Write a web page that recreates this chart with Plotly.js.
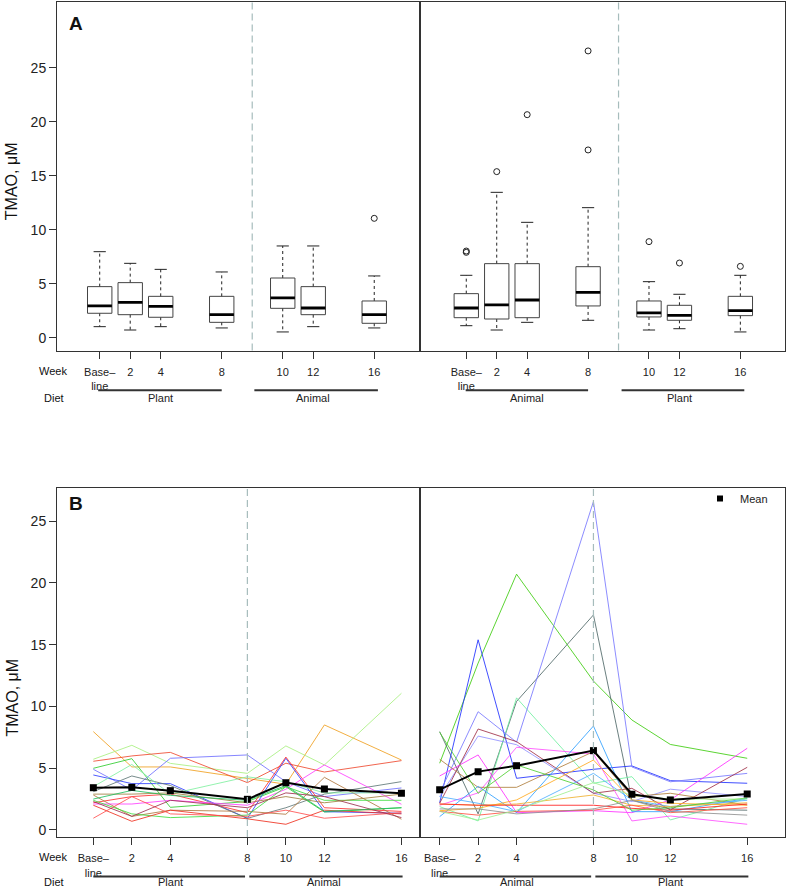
<!DOCTYPE html>
<html>
<head>
<meta charset="utf-8">
<script src="https://cdn.plot.ly/plotly-3.0.1.min.js"></script>
<style>html,body{margin:0;padding:0;background:#fff}#plot{width:786px;height:889px}</style>
</head>
<body>
<div id="plot"></div>
<script>
// week labels and where they sit on each x axis
var weekLabels = ['Base–<br>line', '2', '4', '8', '10', '12', '16'];
var posA = [0, 1, 2, 4, 6, 7, 9];   // panel A leaves a gap at the diet switch
var posB = [0, 1, 2, 4, 5, 6, 8];   // panel B is spaced by week

var plantFirstDiets = ['Plant', 'Animal'];
var animalFirstDiets = ['Animal', 'Plant'];

// Panel A: box stats, plant diet first
var pfLow  = [1.02, 0.71, 1.02, 0.90, 0.53, 1.02, 0.90];
var pfQ1   = [2.26, 2.13, 1.89, 1.42, 2.72, 2.13, 1.33];
var pfMed  = [2.94, 3.28, 2.90, 2.13, 3.68, 2.75, 2.13];
var pfQ3   = [4.73, 5.10, 3.83, 3.83, 5.53, 4.73, 3.40];
var pfHigh = [7.97, 6.89, 6.33, 6.09, 8.50, 8.50, 5.72];
var pfOutIdx = [6];
var pfOutVal = [11.06];

// Panel A: box stats, animal diet first
var afLow  = [1.11, 0.71, 1.42, 1.61, 0.71, 0.83, 0.53];
var afQ1   = [1.85, 1.73, 1.85, 2.94, 1.92, 1.61, 2.04];
var afMed  = [2.75, 3.03, 3.49, 4.20, 2.29, 2.07, 2.50];
var afQ3   = [4.08, 6.86, 6.86, 6.58, 3.40, 3.00, 3.83];
var afHigh = [5.78, 13.47, 10.69, 12.05, 5.19, 4.02, 5.78];
var afOutIdx = [0, 0, 1, 2, 3, 3, 4, 5, 6];
var afOutVal = [8.03, 7.91, 15.39, 20.67, 26.58, 17.40, 8.90, 6.92, 6.61];

// Panel B: each subject, weeks BL,2,4,8,10,12,16 (plant diet first)
var pfSubjects = [
  [7.96, 5.10, 5.10, 4.20, 3.70, 8.50, 5.66],
  [5.72, 6.85, 5.39, 4.58, 6.80, 5.26, 11.06],
  [5.56, 5.99, 6.28, 3.83, 5.40, 4.69, 5.61],
  [4.99, 5.77, 1.83, 2.30, 3.50, 1.45, 1.80],
  [4.91, 3.24, 5.80, 6.07, 3.90, 2.70, 3.40],
  [4.45, 3.75, 3.75, 0.94, 5.80, 1.48, 1.35],
  [2.20, 2.70, 2.90, 1.40, 5.90, 1.80, 1.50],
  [3.10, 4.37, 3.60, 0.94, 1.80, 2.90, 3.91],
  [2.83, 1.10, 1.60, 1.50, 1.27, 4.26, 0.87],
  [2.10, 2.10, 2.40, 2.00, 3.30, 5.26, 2.08],
  [2.40, 1.30, 1.00, 1.20, 3.50, 2.40, 2.40],
  [2.00, 0.70, 1.60, 0.90, 0.46, 1.60, 1.30],
  [0.95, 2.70, 1.30, 1.10, 1.60, 0.95, 1.40],
  [2.30, 1.10, 2.40, 1.80, 3.00, 2.70, 1.00],
  [3.50, 5.30, 2.90, 4.30, 3.90, 3.00, 3.00],
  [2.90, 2.90, 3.00, 2.20, 2.70, 2.20, 2.90],
  [2.50, 3.20, 2.80, 2.40, 3.60, 1.50, 1.80]
];
var pfColors = ['#f0a020', '#a8f080', '#ee4a30', '#30cc30', '#7070ff', '#3040ff', '#ff3030',
  '#607878', '#b07840', '#ff40ff', '#40dd40', '#ee3020', '#ff5050', '#a03050', '#80f0a0',
  '#a08040', '#20c060'];
var pfMean = [3.42, 3.45, 3.18, 2.48, 3.83, 3.32, 2.97];

// Panel B: each subject (animal diet first)
var afSubjects = [
  [5.40, 13.50, 20.70, 12.05, 8.90, 6.92, 5.80],
  [7.96, 1.30, 10.40, 17.40, 2.40, 1.70, 1.60],
  [1.89, 0.73, 10.69, 3.78, 4.31, 0.81, 2.56],
  [2.20, 15.39, 4.18, 4.91, 5.18, 3.99, 3.78],
  [3.00, 9.57, 7.10, 26.58, 5.10, 3.90, 4.58],
  [2.70, 7.60, 6.90, 2.97, 2.30, 3.30, 2.70],
  [2.16, 8.17, 7.15, 2.97, 3.37, 1.62, 5.07],
  [4.37, 6.07, 1.40, 1.56, 1.40, 2.43, 6.61],
  [2.00, 3.00, 6.69, 6.15, 0.73, 1.13, 0.46],
  [5.72, 3.45, 3.45, 6.34, 2.70, 2.97, 2.02],
  [1.08, 3.53, 1.40, 8.41, 1.48, 1.48, 2.56],
  [2.70, 2.16, 1.48, 4.58, 2.43, 1.89, 2.40],
  [1.56, 1.75, 2.43, 5.66, 2.43, 2.16, 2.00],
  [2.10, 2.00, 2.10, 2.83, 2.00, 1.90, 2.20],
  [2.10, 2.00, 2.00, 2.00, 1.75, 1.60, 2.10],
  [1.50, 1.20, 1.50, 1.60, 2.00, 1.40, 1.80],
  [7.90, 2.97, 5.26, 3.24, 1.60, 1.80, 2.60],
  [1.70, 1.70, 1.30, 1.70, 2.40, 1.50, 1.20],
  [1.50, 0.80, 1.60, 3.83, 2.80, 2.50, 2.50]
];
var afColors = ['#40cc10', '#506868', '#70f0a0', '#2030ff', '#7878ff', '#9090ff', '#a03048',
  '#ff30ff', '#ff50ff', '#b08040', '#30a0ff', '#50b0ff', '#ffaa20', '#f0b030', '#ff2020',
  '#ff5040', '#50d030', '#909090', '#a0f090'];
var afMean = [3.26, 4.72, 5.20, 6.42, 2.89, 2.43, 2.91];

var W = 786, H = 889;
var font = 'Liberation Sans, Arial, sans-serif';
var px = function (x) { return x / W; };
var py = function (y) { return 1 - y / H; };

var data = [];

// boxes drawn as R-style: thin box, thick median, dashed whiskers with caps
function addBoxes(pos, low, q1, med, q3, high, outIdx, outVal, xa, ya) {
  var bx = [], by = [], mx = [], my = [], wx = [], wy = [], cx = [], cy = [];
  for (var i = 0; i < pos.length; i++) {
    var x = pos[i];
    bx.push(x - 0.4, x + 0.4, x + 0.4, x - 0.4, x - 0.4, null);
    by.push(q1[i], q1[i], q3[i], q3[i], q1[i], null);
    mx.push(x - 0.4, x + 0.4, null);
    my.push(med[i], med[i], null);
    wx.push(x, x, null, x, x, null);
    wy.push(q3[i], high[i], null, q1[i], low[i], null);
    cx.push(x - 0.2, x + 0.2, null, x - 0.2, x + 0.2, null);
    cy.push(high[i], high[i], null, low[i], low[i], null);
  }
  var common = {xaxis: xa, yaxis: ya, mode: 'lines', showlegend: false, hoverinfo: 'skip'};
  data.push(Object.assign({x: wx, y: wy, line: {color: '#222', width: 1, dash: '3px,3px'}}, common));
  data.push(Object.assign({x: cx, y: cy, line: {color: '#222', width: 1}}, common));
  data.push(Object.assign({x: bx, y: by, line: {color: '#444', width: 1}}, common));
  data.push(Object.assign({x: mx, y: my, line: {color: '#000', width: 2.8}}, common));
  data.push({
    x: outIdx.map(function (k) { return pos[k]; }), y: outVal,
    xaxis: xa, yaxis: ya, mode: 'markers', showlegend: false,
    marker: {symbol: 'circle-open', size: 6, color: '#222', line: {width: 1}}
  });
}

addBoxes(posA, pfLow, pfQ1, pfMed, pfQ3, pfHigh, pfOutIdx, pfOutVal, 'x', 'y');
addBoxes(posA, afLow, afQ1, afMed, afQ3, afHigh, afOutIdx, afOutVal, 'x2', 'y2');

function addSubjects(subjects, colors, mean, xa, ya) {
  subjects.forEach(function (s, i) {
    data.push({x: posB, y: s, xaxis: xa, yaxis: ya, mode: 'lines', showlegend: false,
      line: {color: colors[i], width: 1}, opacity: 0.85});
  });
  data.push({x: posB, y: mean, xaxis: xa, yaxis: ya, mode: 'lines+markers', showlegend: false,
    line: {color: '#000', width: 2}, marker: {symbol: 'square', size: 7, color: '#000'}});
}
addSubjects(pfSubjects, pfColors, pfMean, 'x3', 'y3');
addSubjects(afSubjects, afColors, afMean, 'x4', 'y4');

// legend entry only
data.push({x: [null], y: [null], xaxis: 'x4', yaxis: 'y4', mode: 'markers', name: 'Mean',
  showlegend: true, marker: {symbol: 'square', size: 6, color: '#000'}});

function xAxis(domain, range, pos, anchor) {
  return {
    domain: domain, range: range, anchor: anchor,
    tickvals: pos, ticktext: weekLabels, ticks: 'outside', ticklen: 7, tickcolor: '#333',
    ticklabelstandoff: 4,
    tickfont: {family: font, size: 11, color: '#222'},
    showline: true, mirror: true, linecolor: '#333', linewidth: 1,
    showgrid: false, zeroline: false, fixedrange: true
  };
}
function yAxis(domain, range, anchor, labels) {
  return {
    domain: domain, range: range, anchor: anchor,
    tickvals: [0, 5, 10, 15, 20, 25], ticks: labels ? 'outside' : '', ticklen: 7, tickcolor: '#333',
    showticklabels: labels, tickfont: {family: font, size: 14, color: '#222'},
    showline: true, mirror: true, linecolor: '#333', linewidth: 1,
    showgrid: false, zeroline: false, fixedrange: true
  };
}

var xL = [px(57), px(420.3)], xR = [px(420.3), px(784.5)];
var yA = [py(350.5), py(1.5)], yB = [py(837), py(488.3)];

var shapes = [], annotations = [];

function divider(xa, ya, x) {
  shapes.push({type: 'line', xref: xa, yref: ya + ' domain', x0: x, x1: x, y0: 0, y1: 1,
    line: {color: '#a6bcbc', width: 1.2, dash: '7px,4px'}});
}
divider('x', 'y', 5); divider('x2', 'y2', 5);
divider('x3', 'y3', 4); divider('x4', 'y4', 4);

function dietBar(xa, spans, labels, labelPos, yLine, yText) {
  spans.forEach(function (s, i) {
    shapes.push({type: 'line', xref: xa, yref: 'paper', x0: s[0], x1: s[1], y0: py(yLine), y1: py(yLine),
      line: {color: '#333', width: 2}});
    annotations.push({xref: xa, yref: 'paper', x: labelPos[i], y: py(yText), text: labels[i],
      xanchor: 'center', yanchor: 'middle',
      showarrow: false, font: {family: font, size: 11, color: '#222'}});
  });
}
dietBar('x', [[-0.05, 4], [5.07, 9.12]], plantFirstDiets, [posA[2], posA[5]], 390.3, 397.7);
dietBar('x2', [[-0.02, 4], [5.1, 9.13]], animalFirstDiets, [posA[2], posA[5]], 390.3, 397.7);
dietBar('x3', [[0, 3.94], [4.05, 8.03]], plantFirstDiets, [posB[2], posB[5]], 876.5, 881.5);
dietBar('x4', [[0, 3.94], [4.05, 8.03]], animalFirstDiets, [posB[2], posB[5]], 876.5, 881.5);

function label(text, x, y, size, extra) {
  annotations.push(Object.assign({xref: 'paper', yref: 'paper', x: px(x), y: py(y), text: text,
    xanchor: 'center', yanchor: 'middle',
    showarrow: false, font: {family: font, size: size, color: '#111'}}, extra || {}));
}
label('<b>A</b>', 75.5, 23.5, 19);
label('<b>B</b>', 75.5, 503, 19);
label('TMAO, μM', 11.5, 181.7, 16, {textangle: -90});
label('TMAO, μM', 11.5, 698, 16, {textangle: -90});
label('Week', 53, 371, 11);
label('Diet', 53.7, 397.7, 11);
label('Week', 53, 857, 11);
label('Diet', 53.7, 881.5, 11);

var layout = {
  width: W, height: H,
  margin: {l: 0, r: 0, t: 0, b: 0},
  paper_bgcolor: '#fff', plot_bgcolor: '#fff',
  showlegend: true,
  legend: {x: px(700), y: py(484), xanchor: 'left', yanchor: 'top', bgcolor: 'rgba(0,0,0,0)',
    font: {family: font, size: 11, color: '#222'}},
  xaxis: xAxis(xL, [-1.40, 10.51], posA, 'y'),
  yaxis: yAxis(yA, [-1.19, 31.16], 'x', true),
  xaxis2: xAxis(xR, [-1.51, 10.45], posA, 'y2'),
  yaxis2: yAxis(yA, [-1.19, 31.16], 'x2', false),
  xaxis3: xAxis(xL, [-0.943, 8.49], posB, 'y3'),
  yaxis3: yAxis(yB, [-0.57, 27.65], 'x3', true),
  xaxis4: xAxis(xR, [-0.504, 8.97], posB, 'y4'),
  yaxis4: yAxis(yB, [-0.57, 27.65], 'x4', false),
  shapes: shapes,
  annotations: annotations
};

Plotly.newPlot('plot', data, layout, {displayModeBar: false, staticPlot: true});
</script>
</body>
</html>
